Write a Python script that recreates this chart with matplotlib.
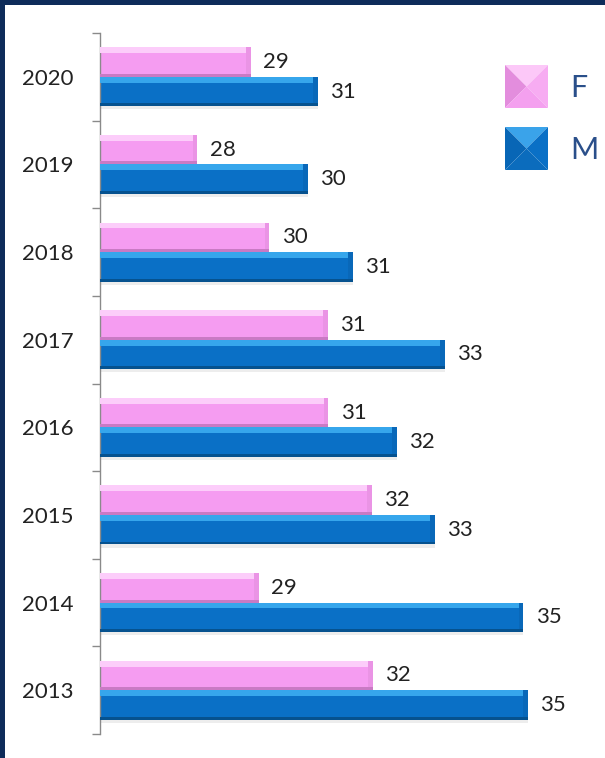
import numpy as np
import matplotlib
matplotlib.use("Agg")
import matplotlib.pyplot as plt
from matplotlib.patches import Rectangle, Polygon

# data (bottom to top)
years = ["2013", "2014", "2015", "2016", "2017", "2018", "2019", "2020"]
f_vals = [31.77, 29.36, 31.74, 30.83, 30.81, 29.58, 28.06, 29.19]
m_vals = [35.05, 34.95, 33.08, 32.27, 33.29, 31.34, 30.39, 30.61]
series_names = ["F", "M"]

# style
W, H = 605, 758
X0 = 26.0
PX_PER_UNIT = 47.3
BAR_H = 0.337
FONT = "Lato"
BORDER = "#0e2c5a"
LEGEND_TXT = "#2a4f8a"

F_BODY, F_TOP, F_BOT, F_END = "#f59cf1", "#fccdfa", "#c97ac4", "#ea94e5"
M_BODY, M_TOP, M_BOT, M_END = "#0a70c6", "#36a6ec", "#06528f", "#0968b9"

fig = plt.figure(figsize=(W / 100, H / 100), dpi=100)
fig.patch.set_facecolor("white")

ax = fig.add_axes([100 / W, 1 - 734 / H, 460 / W, 701 / H])
ax.set_xlim(X0, X0 + 460 / PX_PER_UNIT)
ax.set_ylim(-0.5, len(years) - 0.5)

y = np.arange(len(years))


def bevel_bars(yc, vals, body, top, bot, end):
    widths = [v - X0 for v in vals]
    # soft shadow
    ax.barh(yc - 0.035, widths, left=X0, height=BAR_H, color="#000000",
            alpha=0.07, linewidth=0, zorder=1)
    ax.barh(yc, widths, left=X0, height=BAR_H, color=body, linewidth=0, zorder=2)
    ax.barh(yc, [0.1] * len(vals), left=[v - 0.1 for v in vals], height=BAR_H,
            color=end, linewidth=0, zorder=3)
    ax.barh(yc + BAR_H * 0.4, [w - 0.1 for w in widths], left=X0,
            height=BAR_H * 0.2, color=top, linewidth=0, zorder=4)
    ax.barh(yc - BAR_H * 0.45, widths, left=X0, height=BAR_H * 0.1,
            color=bot, linewidth=0, zorder=4)
    for yy, v in zip(yc, vals):
        ax.text(v + 0.26, yy, f"{v:.0f}", va="center", ha="left",
                fontsize=16, family=FONT, color="#222222", zorder=5)


bevel_bars(y + BAR_H / 2, f_vals, F_BODY, F_TOP, F_BOT, F_END)
bevel_bars(y - BAR_H / 2, m_vals, M_BODY, M_TOP, M_BOT, M_END)

for s in ["top", "right", "bottom"]:
    ax.spines[s].set_visible(False)
ax.spines["left"].set_color("#8a8a8a")
ax.spines["left"].set_linewidth(1.0)
ax.set_xticks([])

ax.set_yticks(np.arange(-0.5, len(years), 1.0))
ax.set_yticklabels([])
ax.tick_params(axis="y", which="major", length=6, width=1, color="#8a8a8a")
ax.set_yticks(y, minor=True)
ax.set_yticklabels(years, minor=True, fontsize=16, family=FONT, color="#222222")
ax.tick_params(axis="y", which="minor", length=0, pad=19)

# legend with pyramid-shaded squares
legend_cols = [
    ("#fcc8f8", "#e38ddd", "#f7acf2", "#f4a0ef"),
    ("#3aa3ea", "#0866b6", "#0a70c6", "#0b6cbd"),
]
for i, (name, cols) in enumerate(zip(series_names, legend_cols)):
    top_px = 65 + i * 62
    lax = fig.add_axes([505 / W, 1 - (top_px + 43) / H, 43 / W, 43 / H])
    lax.set_xlim(0, 1)
    lax.set_ylim(0, 1)
    lax.axis("off")
    c_top, c_left, c_right, c_bot = cols
    lax.add_patch(Polygon([(0, 1), (1, 1), (0.5, 0.5)], color=c_top, lw=0))
    lax.add_patch(Polygon([(0, 0), (0, 1), (0.5, 0.5)], color=c_left, lw=0))
    lax.add_patch(Polygon([(1, 0), (1, 1), (0.5, 0.5)], color=c_right, lw=0))
    lax.add_patch(Polygon([(0, 0), (1, 0), (0.5, 0.5)], color=c_bot, lw=0))
    fig.text(570 / W, 1 - (top_px + 23) / H, name, fontsize=22, family=FONT,
             color=LEGEND_TXT, va="center", ha="left")

# dark frame on left and top
fig.add_artist(Rectangle((0, 0), 5 / W, 1, transform=fig.transFigure,
                         color=BORDER, lw=0, zorder=10))
fig.add_artist(Rectangle((0, 1 - 5 / H), 1, 5 / H, transform=fig.transFigure,
                         color=BORDER, lw=0, zorder=10))

fig.savefig("out.png", dpi=100, facecolor="white")
